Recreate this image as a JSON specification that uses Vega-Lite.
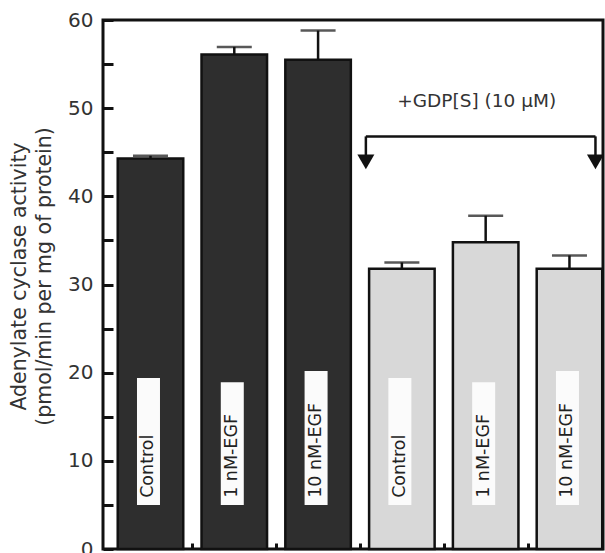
{
  "$schema": "https://vega.github.io/schema/vega-lite/v6.json",
  "width": 500,
  "height": 529,
  "autosize": {"type": "none"},
  "padding": {"left": 103, "top": 20, "right": 2, "bottom": 4},
  "background": "white",
  "config": {
    "font": "DejaVu Sans",
    "view": {"stroke": "#111", "strokeWidth": 3}
  },
  "data": {
    "values": [
      {"id": "Control", "label": "Control", "treatment": "none", "value": 44.3, "upper": 44.6},
      {"id": "1 nM-EGF", "label": "1 nM-EGF", "treatment": "none", "value": 56.1, "upper": 56.95},
      {"id": "10 nM-EGF", "label": "10 nM-EGF", "treatment": "none", "value": 55.5, "upper": 58.8},
      {"id": "Control + GDP[S]", "label": "Control", "treatment": "GDP[S]", "value": 31.8, "upper": 32.5},
      {"id": "1 nM-EGF + GDP[S]", "label": "1 nM-EGF", "treatment": "GDP[S]", "value": 34.8, "upper": 37.8},
      {"id": "10 nM-EGF + GDP[S]", "label": "10 nM-EGF", "treatment": "GDP[S]", "value": 31.8, "upper": 33.3}
    ]
  },
  "layer": [
    {
      "mark": {"type": "bar", "stroke": "#111", "strokeWidth": 2.5},
      "encoding": {
        "x": {
          "field": "id",
          "type": "nominal",
          "sort": null,
          "scale": {"paddingInner": 0.218, "paddingOuter": 0.0925, "align": 0.95},
          "axis": {
            "title": null,
            "labels": false,
            "domain": false,
            "ticks": true,
            "offset": -6,
            "zindex": 2,
            "tickBand": "center",
            "tickOffset": 41.9,
            "tickSize": 6,
            "tickWidth": 3,
            "tickOpacity": 1,
            "tickColor": "#111"
          }
        },
        "y": {
          "field": "value",
          "type": "quantitative",
          "scale": {"domain": [0, 60], "nice": false},
          "axis": {
            "values": [0, 5, 10, 15, 20, 25, 30, 35, 40, 45, 50, 55, 60],
            "labelExpr": "datum.value % 10 === 0 ? datum.label : ''",
            "grid": false,
            "domain": false,
            "ticks": true,
            "offset": -10,
            "zindex": 2,
            "tickSize": 10,
            "tickWidth": 3,
            "tickOpacity": 1,
            "tickColor": "#111",
            "labelFontSize": 20,
            "labelColor": "#333",
            "labelPadding": 10,
            "title": ["Adenylate cyclase activity", "(pmol/min per mg of protein)"],
            "titleFontSize": 20.5,
            "titleFontWeight": "normal",
            "titleColor": "#333",
            "titleLineHeight": 25.5,
            "titleX": -94,
            "titleY": 256,
            "titleBaseline": "middle"
          }
        },
        "fill": {
          "field": "treatment",
          "type": "nominal",
          "scale": {"domain": ["none", "GDP[S]"], "range": ["#2e2e2e", "#d8d8d8"]},
          "legend": null
        }
      }
    },
    {
      "mark": {"type": "rule", "stroke": "#111", "strokeWidth": 2.5},
      "encoding": {
        "x": {"field": "id", "type": "nominal", "sort": null},
        "y": {"field": "value", "type": "quantitative"},
        "y2": {"field": "upper"}
      }
    },
    {
      "mark": {"type": "tick", "color": "#111", "thickness": 2.5, "size": 35},
      "encoding": {
        "x": {"field": "id", "type": "nominal", "sort": null},
        "y": {"field": "upper", "type": "quantitative"}
      }
    },
    {
      "transform": [
        {"calculate": "datum.label === 'Control' ? 19.4 : (datum.label === '1 nM-EGF' ? 18.9 : 20.2)", "as": "boxTop"},
        {"calculate": "5.0", "as": "boxBottom"}
      ],
      "mark": {"type": "bar", "fill": "#fbfbfb", "width": 23, "xOffset": -2},
      "encoding": {
        "x": {"field": "id", "type": "nominal", "sort": null},
        "y": {"field": "boxBottom", "type": "quantitative"},
        "y2": {"field": "boxTop"}
      }
    },
    {
      "transform": [{"calculate": "5.8", "as": "textBase"}],
      "mark": {"type": "text", "angle": 270, "align": "left", "baseline": "middle", "fontSize": 17.5, "color": "#222", "xOffset": -2},
      "encoding": {
        "x": {"field": "id", "type": "nominal", "sort": null},
        "y": {"field": "textBase", "type": "quantitative"},
        "text": {"field": "label"}
      }
    },
    {
      "data": {"values": [{"from": "Control + GDP[S]", "to": "10 nM-EGF + GDP[S]", "level": 46.8}]},
      "mark": {"type": "rule", "stroke": "#111", "strokeWidth": 2.5, "xOffset": -36, "x2Offset": 26},
      "encoding": {
        "x": {"field": "from", "type": "nominal", "sort": null},
        "x2": {"field": "to"},
        "y": {"field": "level", "type": "quantitative"}
      }
    },
    {
      "data": {"values": [{"at": "Control + GDP[S]", "top": 46.8, "bottom": 44.5, "tip": 43.9}]},
      "layer": [
        {
          "mark": {"type": "rule", "stroke": "#111", "strokeWidth": 2.5, "xOffset": -36},
          "encoding": {
            "x": {"field": "at", "type": "nominal", "sort": null},
            "y": {"field": "top", "type": "quantitative"},
            "y2": {"field": "bottom"}
          }
        },
        {
          "mark": {"type": "point", "shape": "triangle-down", "filled": true, "color": "#111", "opacity": 1, "size": 290, "xOffset": -36},
          "encoding": {
            "x": {"field": "at", "type": "nominal", "sort": null},
            "y": {"field": "tip", "type": "quantitative"}
          }
        }
      ]
    },
    {
      "data": {"values": [{"at": "10 nM-EGF + GDP[S]", "top": 46.8, "bottom": 44.5, "tip": 43.9}]},
      "layer": [
        {
          "mark": {"type": "rule", "stroke": "#111", "strokeWidth": 2.5, "xOffset": 26},
          "encoding": {
            "x": {"field": "at", "type": "nominal", "sort": null},
            "y": {"field": "top", "type": "quantitative"},
            "y2": {"field": "bottom"}
          }
        },
        {
          "mark": {"type": "point", "shape": "triangle-down", "filled": true, "color": "#111", "opacity": 1, "size": 290, "xOffset": 26},
          "encoding": {
            "x": {"field": "at", "type": "nominal", "sort": null},
            "y": {"field": "tip", "type": "quantitative"}
          }
        }
      ]
    },
    {
      "data": {"values": [{"at": "1 nM-EGF + GDP[S]", "note": "+GDP[S] (10 μM)", "level": 50.8}]},
      "mark": {"type": "text", "fontSize": 18.5, "color": "#333", "align": "center", "baseline": "middle", "xOffset": -9},
      "encoding": {
        "x": {"field": "at", "type": "nominal", "sort": null},
        "y": {"field": "level", "type": "quantitative"},
        "text": {"field": "note"}
      }
    }
  ]
}
